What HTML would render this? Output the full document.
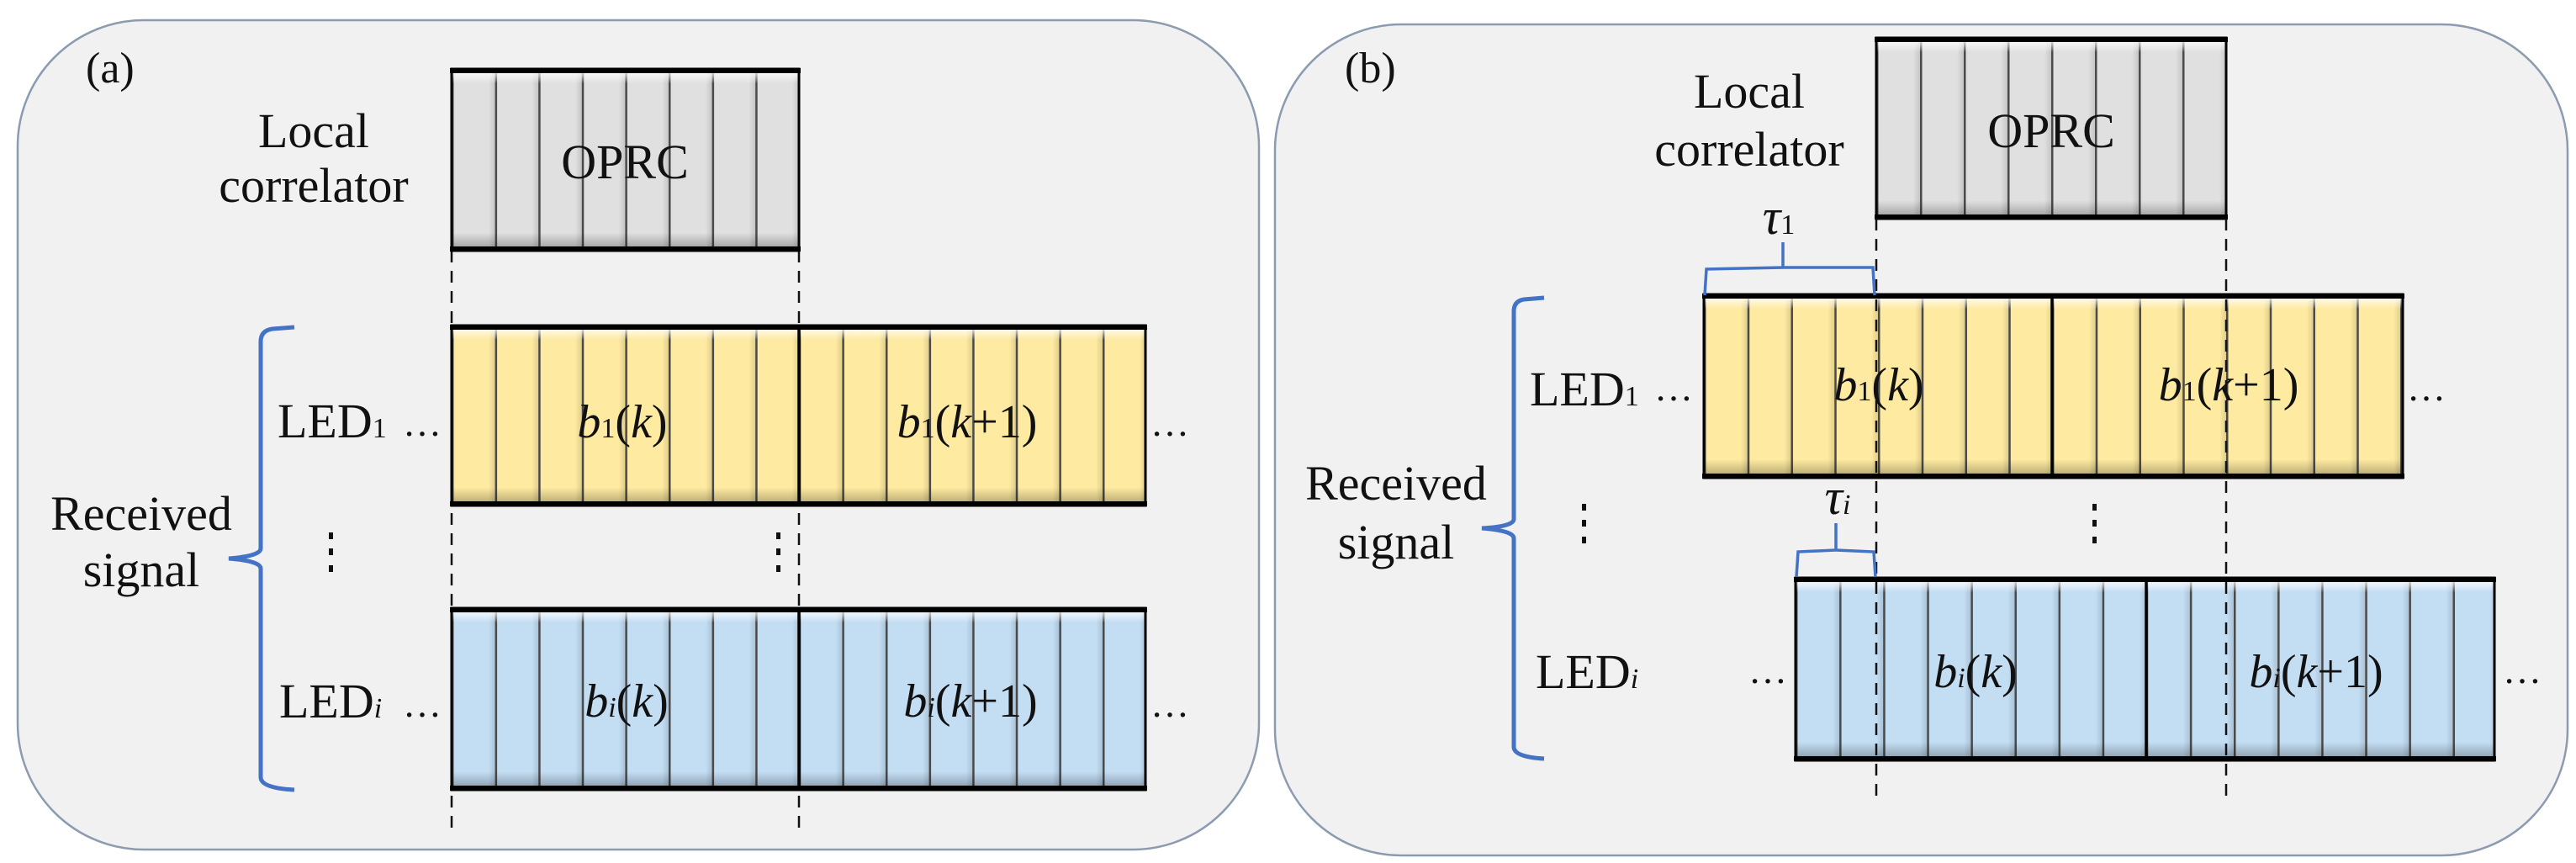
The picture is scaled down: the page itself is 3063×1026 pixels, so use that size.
<!DOCTYPE html>
<html><head><meta charset="utf-8"><style>
html,body{margin:0;padding:0;background:#fff;}
svg{display:block;font-family:"Liberation Serif","Times New Roman",serif;}
svg text{font-family:"Liberation Serif","Times New Roman",serif;fill:#111;}
</style></head><body>
<svg width="3063" height="1026" viewBox="0 0 3063 1026" xmlns="http://www.w3.org/2000/svg" font-family="Liberation Serif, Times New Roman, serif">
<defs>
<linearGradient id="vg" x1="0" y1="0" x2="0" y2="1">
<stop offset="0" stop-color="#fff" stop-opacity="0.95"/>
<stop offset="0.035" stop-color="#fff" stop-opacity="0.6"/>
<stop offset="0.08" stop-color="#fff" stop-opacity="0"/>
<stop offset="0.9" stop-color="#000" stop-opacity="0"/>
<stop offset="0.97" stop-color="#000" stop-opacity="0.22"/>
<stop offset="1" stop-color="#000" stop-opacity="0.35"/>
</linearGradient>
<linearGradient id="hs" x1="0" y1="0" x2="1" y2="0">
<stop offset="0" stop-color="#000" stop-opacity="0"/>
<stop offset="1" stop-color="#000" stop-opacity="0.12"/>
</linearGradient>
<pattern id="pa" patternUnits="userSpaceOnUse" x="537" y="0" width="51.6" height="1026">
<rect x="44" y="0" width="7.6" height="1026" fill="url(#hs)"/>
<rect x="0" y="0" width="2.5" height="1026" fill="#4a4a4a"/>
</pattern>
<pattern id="pbo" patternUnits="userSpaceOnUse" x="2231" y="0" width="52" height="1026">
<rect x="44" y="0" width="8" height="1026" fill="url(#hs)"/>
<rect x="0" y="0" width="2.5" height="1026" fill="#4a4a4a"/>
</pattern>
<pattern id="pby" patternUnits="userSpaceOnUse" x="2026" y="0" width="51.75" height="1026">
<rect x="44" y="0" width="7.75" height="1026" fill="url(#hs)"/>
<rect x="0" y="0" width="2.5" height="1026" fill="#4a4a4a"/>
</pattern>
<pattern id="pbb" patternUnits="userSpaceOnUse" x="2135" y="0" width="52.1" height="1026">
<rect x="44" y="0" width="8.1" height="1026" fill="url(#hs)"/>
<rect x="0" y="0" width="2.5" height="1026" fill="#4a4a4a"/>
</pattern>
</defs>

<rect x="21" y="24" width="1476" height="986" rx="150" ry="150" fill="#f1f1f1" stroke="#8c9bb0" stroke-width="2.5"/>
<rect x="1516" y="29" width="1537" height="988" rx="150" ry="150" fill="#f1f1f1" stroke="#8c9bb0" stroke-width="2.5"/>

<!-- ===== Panel (a) ===== -->
<text x="102" y="98" font-size="52">(a)</text>
<text x="373" y="175" font-size="58" text-anchor="middle">Local</text>
<text x="373" y="240" font-size="58" text-anchor="middle">correlator</text>

<g stroke="#111" stroke-width="2.5" stroke-dasharray="14 10">
<line x1="537" y1="298" x2="537" y2="990"/>
<line x1="950" y1="298" x2="950" y2="990"/>
</g>

<rect x="537" y="82" width="413" height="216" fill="#e0e0e0"/>
<rect x="537" y="82" width="413" height="216" fill="url(#pa)"/>
<rect x="537" y="82" width="413" height="216" fill="url(#vg)"/>
<rect x="537" y="82" width="413" height="216" fill="none" stroke="#000" stroke-width="3"/>
<line x1="535" y1="84" x2="952" y2="84" stroke="#000" stroke-width="6"/>
<line x1="535" y1="296" x2="952" y2="296" stroke="#000" stroke-width="6"/>
<text x="743" y="212" font-size="58" text-anchor="middle">OPRC</text>

<rect x="537" y="387" width="825" height="214" fill="#feeaa0"/>
<rect x="537" y="387" width="825" height="214" fill="url(#pa)"/>
<rect x="537" y="387" width="825" height="214" fill="url(#vg)"/>
<rect x="537" y="387" width="825" height="214" fill="none" stroke="#000" stroke-width="3"/>
<line x1="535" y1="389" x2="1364" y2="389" stroke="#000" stroke-width="6"/>
<line x1="535" y1="599" x2="1364" y2="599" stroke="#000" stroke-width="6"/>
<line x1="950" y1="387" x2="950" y2="601" stroke="#000" stroke-width="3.5"/>

<rect x="537" y="723" width="825" height="216" fill="#c3ddf3"/>
<rect x="537" y="723" width="825" height="216" fill="url(#pa)"/>
<rect x="537" y="723" width="825" height="216" fill="url(#vg)"/>
<rect x="537" y="723" width="825" height="216" fill="none" stroke="#000" stroke-width="3"/>
<line x1="535" y1="725" x2="1364" y2="725" stroke="#000" stroke-width="6"/>
<line x1="535" y1="937" x2="1364" y2="937" stroke="#000" stroke-width="6"/>
<line x1="950" y1="723" x2="950" y2="939" stroke="#000" stroke-width="3.5"/>

<text x="740" y="520" font-size="56" text-anchor="middle"><tspan font-style="italic">b</tspan><tspan font-size="34">1</tspan>(<tspan font-style="italic">k</tspan>)</text>
<text x="1150" y="520" font-size="56" text-anchor="middle"><tspan font-style="italic">b</tspan><tspan font-size="34">1</tspan>(<tspan font-style="italic">k</tspan>+1)</text>
<text x="745" y="852" font-size="56" text-anchor="middle"><tspan font-style="italic">b</tspan><tspan font-size="34" font-style="italic">i</tspan>(<tspan font-style="italic">k</tspan>)</text>
<text x="1154" y="852" font-size="56" text-anchor="middle"><tspan font-style="italic">b</tspan><tspan font-size="34" font-style="italic">i</tspan>(<tspan font-style="italic">k</tspan>+1)</text>

<text x="330" y="520" font-size="58">LED<tspan font-size="34">1</tspan></text>
<text x="479" y="518" font-size="46">…</text>
<text x="1368" y="518" font-size="46">…</text>
<text x="332" y="853" font-size="58">LED<tspan font-size="34" font-style="italic">i</tspan></text>
<text x="479" y="852" font-size="46">…</text>
<text x="1368" y="852" font-size="46">…</text>

<text x="168" y="630" font-size="58" text-anchor="middle">Received</text>
<text x="168" y="697" font-size="58" text-anchor="middle">signal</text>

<g fill="#111">
<rect x="391" y="633" width="5" height="8"/><rect x="391" y="652" width="5" height="8"/><rect x="391" y="672" width="5" height="8"/>
<rect x="923" y="633" width="5" height="8"/><rect x="923" y="652" width="5" height="8"/><rect x="923" y="672" width="5" height="8"/>
</g>

<path d="M350,389 L324,391 Q310,393 310,406 L310,652 Q310,661 272,664 Q310,667 310,676 L310,924 Q310,937 350,939" fill="none" stroke="#4472c4" stroke-width="5"/>

<!-- ===== Panel (b) ===== -->
<text x="1599" y="98" font-size="52">(b)</text>
<text x="2080" y="128" font-size="58" text-anchor="middle">Local</text>
<text x="2080" y="197" font-size="58" text-anchor="middle">correlator</text>

<rect x="2231" y="45" width="416" height="215" fill="#e0e0e0"/>
<rect x="2231" y="45" width="416" height="215" fill="url(#pbo)"/>
<rect x="2231" y="45" width="416" height="215" fill="url(#vg)"/>
<rect x="2231" y="45" width="416" height="215" fill="none" stroke="#000" stroke-width="3"/>
<line x1="2229" y1="47" x2="2649" y2="47" stroke="#000" stroke-width="6"/>
<line x1="2229" y1="258" x2="2649" y2="258" stroke="#000" stroke-width="6"/>
<text x="2439" y="175" font-size="58" text-anchor="middle">OPRC</text>

<rect x="2026" y="350" width="831" height="218" fill="#feeaa0"/>
<rect x="2026" y="350" width="831" height="218" fill="url(#pby)"/>
<rect x="2026" y="350" width="831" height="218" fill="url(#vg)"/>
<rect x="2026" y="350" width="831" height="218" fill="none" stroke="#000" stroke-width="3"/>
<line x1="2024" y1="352" x2="2859" y2="352" stroke="#000" stroke-width="6"/>
<line x1="2024" y1="566" x2="2859" y2="566" stroke="#000" stroke-width="6"/>
<line x1="2440" y1="350" x2="2440" y2="568" stroke="#000" stroke-width="3.5"/>

<rect x="2135" y="687" width="831" height="217" fill="#c3ddf3"/>
<rect x="2135" y="687" width="831" height="217" fill="url(#pbb)"/>
<rect x="2135" y="687" width="831" height="217" fill="url(#vg)"/>
<rect x="2135" y="687" width="831" height="217" fill="none" stroke="#000" stroke-width="3"/>
<line x1="2133" y1="689" x2="2968" y2="689" stroke="#000" stroke-width="6"/>
<line x1="2133" y1="902" x2="2968" y2="902" stroke="#000" stroke-width="6"/>
<line x1="2552" y1="687" x2="2552" y2="904" stroke="#000" stroke-width="3.5"/>

<g stroke="#111" stroke-width="2.5" stroke-dasharray="14 10">
<line x1="2231" y1="260" x2="2231" y2="953"/>
<line x1="2647" y1="260" x2="2647" y2="953"/>
</g>

<text x="2234" y="476" font-size="56" text-anchor="middle"><tspan font-style="italic">b</tspan><tspan font-size="34">1</tspan>(<tspan font-style="italic">k</tspan>)</text>
<text x="2650" y="476" font-size="56" text-anchor="middle"><tspan font-style="italic">b</tspan><tspan font-size="34">1</tspan>(<tspan font-style="italic">k</tspan>+1)</text>
<text x="2349" y="817" font-size="56" text-anchor="middle"><tspan font-style="italic">b</tspan><tspan font-size="34" font-style="italic">i</tspan>(<tspan font-style="italic">k</tspan>)</text>
<text x="2754" y="817" font-size="56" text-anchor="middle"><tspan font-style="italic">b</tspan><tspan font-size="34" font-style="italic">i</tspan>(<tspan font-style="italic">k</tspan>+1)</text>

<text x="1819" y="482" font-size="58">LED<tspan font-size="34">1</tspan></text>
<text x="1967" y="476" font-size="46">…</text>
<text x="2862" y="476" font-size="46">…</text>
<text x="1826" y="818" font-size="58">LED<tspan font-size="34" font-style="italic">i</tspan></text>
<text x="2079" y="812" font-size="46">…</text>
<text x="2976" y="812" font-size="46">…</text>

<text x="1660" y="594" font-size="58" text-anchor="middle">Received</text>
<text x="1660" y="664" font-size="58" text-anchor="middle">signal</text>

<g fill="#111">
<rect x="1881" y="599" width="5" height="8"/><rect x="1881" y="618" width="5" height="8"/><rect x="1881" y="638" width="5" height="8"/>
<rect x="2488" y="599" width="5" height="8"/><rect x="2488" y="618" width="5" height="8"/><rect x="2488" y="638" width="5" height="8"/>
</g>

<path d="M1836,354 L1812,356 Q1800,358 1800,370 L1800,617 Q1800,626 1762,628 Q1800,631 1800,640 L1800,888 Q1800,900 1836,902" fill="none" stroke="#4472c4" stroke-width="5"/>

<path d="M2027,351 L2029,320 L2120,318 L2120,288 M2120,318 L2227,318 L2229,351" fill="none" stroke="#4472c4" stroke-width="3.5"/>
<text x="2115" y="278" font-size="60" text-anchor="middle"><tspan font-style="italic">τ</tspan><tspan font-size="34">1</tspan></text>
<path d="M2136,686 L2138,656 L2183,654 L2183,622 M2183,654 L2228,656 L2230,686" fill="none" stroke="#4472c4" stroke-width="3.5"/>
<text x="2185" y="611" font-size="60" text-anchor="middle"><tspan font-style="italic">τ</tspan><tspan font-size="34" font-style="italic">i</tspan></text>
</svg>
</body></html>
